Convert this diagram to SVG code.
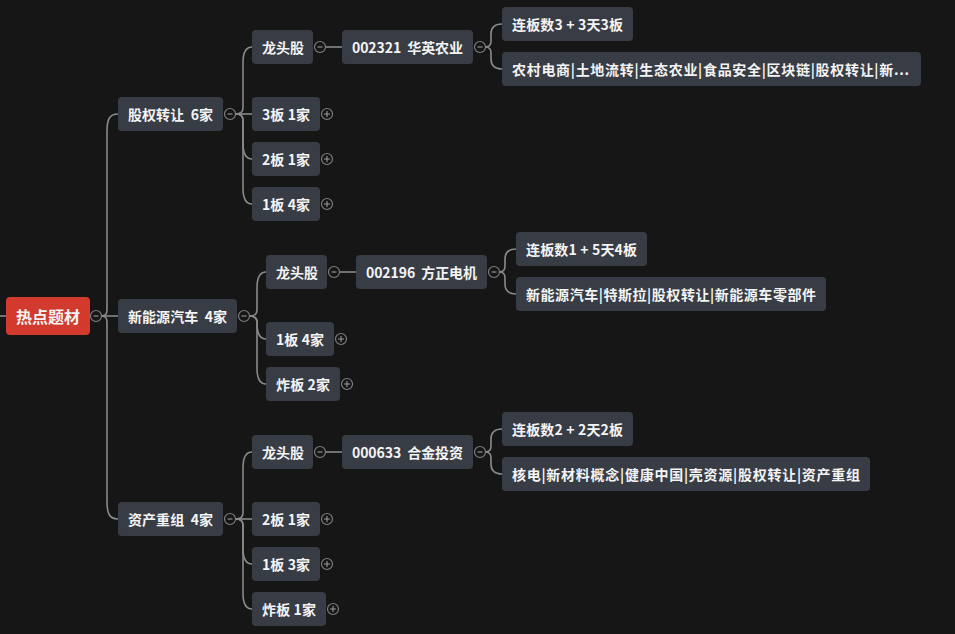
<svg xmlns="http://www.w3.org/2000/svg" width="955" height="634" viewBox="0 0 955 634">
<style>
.bg{fill:#161616}
.n rect{fill:#383d45}
.n text{fill:#f4f4f4;font-family:"Noto Sans CJK SC","Noto Sans",sans-serif;font-size:14px;font-weight:600;dominant-baseline:central}
.root rect{fill:#d13a2c}
.root text{font-size:16px}
.c path{fill:none;stroke:#8a8a8a;stroke-width:1.6}
.t circle{fill:#161616;stroke:#7e7e7e;stroke-width:1.2}
.t path{stroke:#9a9a9a;stroke-width:1.1;fill:none}
</style>
<rect class="bg" x="0" y="0" width="955" height="634"/>

<g id="connectors" class="c">
<path d="M0 316 H6"/>
<!-- root -->
<path d="M101.5 316 Q107 316 107 310 V132 C107 120 109 114 118 114"/>
<path d="M101.5 316 H118"/>
<path d="M101.5 316 Q107 316 107 322 V501 C107 513 109 519 118 519"/>
<!-- A -->
<path d="M235.5 114 Q243 114 243 108 V63 C243 53 245 47 252 47"/>
<path d="M235.5 114 H252"/>
<path d="M235.5 114 Q243 114 243 120 V143 C243 153 245 159 252 159"/>
<path d="M235.5 114 Q243 114 243 120 V188 C243 198 245 204 252 204"/>
<path d="M325.5 47 H342"/>
<path d="M485.5 47 Q491 47 491 41 V34 C491 28 494 24 502 24"/>
<path d="M485.5 47 Q491 47 491 53 V59 C491 65 494 69 502 69"/>
<!-- B -->
<path d="M249.5 316 Q257 316 257 310 V288 C257 278 259 272 266 272"/>
<path d="M249.5 316 Q257 316 257 322 V323 C257 333 259 339 266 339"/>
<path d="M249.5 316 Q257 316 257 322 V368 C257 378 259 384 266 384"/>
<path d="M339.5 272 H356"/>
<path d="M499.5 272 Q505 272 505 266 V259 C505 253 508 249 516 249"/>
<path d="M499.5 272 Q505 272 505 278 V284 C505 290 508 294 516 294"/>
<!-- C -->
<path d="M235.5 519 Q243 519 243 513 V468 C243 458 245 452 252 452"/>
<path d="M235.5 519 H252"/>
<path d="M235.5 519 Q243 519 243 525 V548 C243 558 245 564 252 564"/>
<path d="M235.5 519 Q243 519 243 525 V593 C243 603 245 609 252 609"/>
<path d="M325.5 452 H342"/>
<path d="M485.5 452 Q491 452 491 446 V439 C491 433 494 429 502 429"/>
<path d="M485.5 452 Q491 452 491 458 V464 C491 470 494 474 502 474"/>
</g>

<g id="root" class="n root"><rect x="6" y="297" width="84" height="38" rx="4"/><text x="16" y="316" textLength="64">热点题材</text></g>

<g id="nA" class="n"><rect x="118" y="97" width="105" height="34" rx="4"/><text x="128" y="114" textLength="85" xml:space="preserve">股权转让  6家</text></g>
<g id="nB" class="n"><rect x="118" y="299" width="119" height="34" rx="4"/><text x="128" y="316" textLength="99" xml:space="preserve">新能源汽车  4家</text></g>
<g id="nC" class="n"><rect x="118" y="502" width="105" height="34" rx="4"/><text x="128" y="519" textLength="85" xml:space="preserve">资产重组  4家</text></g>

<g id="nA1" class="n"><rect x="252" y="30" width="61" height="34" rx="4"/><text x="262" y="47" textLength="42">龙头股</text></g>
<g id="nA1s" class="n"><rect x="342" y="30" width="131" height="34" rx="4"/><text x="352" y="47" textLength="111" xml:space="preserve">002321  华英农业</text></g>
<g id="nA1a" class="n"><rect x="502" y="7" width="131" height="34" rx="4"/><text x="512" y="24" textLength="111">连板数3 + 3天3板</text></g>
<g id="nA1b" class="n"><rect x="502" y="52" width="419" height="34" rx="4"/><text x="512" y="69" textLength="397">农村电商|土地流转|生态农业|食品安全|区块链|股权转让|新...</text></g>
<g id="nA2" class="n"><rect x="252" y="97" width="68" height="34" rx="4"/><text x="262" y="114" textLength="48">3板 1家</text></g>
<g id="nA3" class="n"><rect x="252" y="142" width="68" height="34" rx="4"/><text x="262" y="159" textLength="48">2板 1家</text></g>
<g id="nA4" class="n"><rect x="252" y="187" width="68" height="34" rx="4"/><text x="262" y="204" textLength="48">1板 4家</text></g>

<g id="nB1" class="n"><rect x="266" y="255" width="61" height="34" rx="4"/><text x="276" y="272" textLength="42">龙头股</text></g>
<g id="nB1s" class="n"><rect x="356" y="255" width="131" height="34" rx="4"/><text x="366" y="272" textLength="111" xml:space="preserve">002196  方正电机</text></g>
<g id="nB1a" class="n"><rect x="516" y="232" width="131" height="34" rx="4"/><text x="526" y="249" textLength="111">连板数1 + 5天4板</text></g>
<g id="nB1b" class="n"><rect x="516" y="277" width="310" height="34" rx="4"/><text x="526" y="294" textLength="290">新能源汽车|特斯拉|股权转让|新能源车零部件</text></g>
<g id="nB2" class="n"><rect x="266" y="322" width="68" height="34" rx="4"/><text x="276" y="339" textLength="48">1板 4家</text></g>
<g id="nB3" class="n"><rect x="266" y="367" width="74" height="34" rx="4"/><text x="276" y="384" textLength="54">炸板 2家</text></g>

<g id="nC1" class="n"><rect x="252" y="435" width="61" height="34" rx="4"/><text x="262" y="452" textLength="42">龙头股</text></g>
<g id="nC1s" class="n"><rect x="342" y="435" width="131" height="34" rx="4"/><text x="352" y="452" textLength="111" xml:space="preserve">000633  合金投资</text></g>
<g id="nC1a" class="n"><rect x="502" y="412" width="131" height="34" rx="4"/><text x="512" y="429" textLength="111">连板数2 + 2天2板</text></g>
<g id="nC1b" class="n"><rect x="502" y="457" width="368" height="34" rx="4"/><text x="512" y="474" textLength="348">核电|新材料概念|健康中国|壳资源|股权转让|资产重组</text></g>
<g id="nC2" class="n"><rect x="252" y="502" width="68" height="34" rx="4"/><text x="262" y="519" textLength="48">2板 1家</text></g>
<g id="nC3" class="n"><rect x="252" y="547" width="68" height="34" rx="4"/><text x="262" y="564" textLength="48">1板 3家</text></g>
<g id="nC4" class="n"><rect x="252" y="592" width="74" height="34" rx="4"/><text x="262" y="609" textLength="54">炸板 1家</text></g>

<g id="toggles" class="t">
<circle cx="96" cy="316" r="5.5"/><path d="M93.5 316 H98.5"/>
<circle cx="230" cy="114" r="5.5"/><path d="M227.5 114 H232.5"/>
<circle cx="320" cy="47" r="5.5"/><path d="M317.5 47 H322.5"/>
<circle cx="480" cy="47" r="5.5"/><path d="M477.5 47 H482.5"/>
<circle cx="244" cy="316" r="5.5"/><path d="M241.5 316 H246.5"/>
<circle cx="334" cy="272" r="5.5"/><path d="M331.5 272 H336.5"/>
<circle cx="494" cy="272" r="5.5"/><path d="M491.5 272 H496.5"/>
<circle cx="230" cy="519" r="5.5"/><path d="M227.5 519 H232.5"/>
<circle cx="320" cy="452" r="5.5"/><path d="M317.5 452 H322.5"/>
<circle cx="480" cy="452" r="5.5"/><path d="M477.5 452 H482.5"/>
<circle cx="327" cy="114" r="5.5"/><path d="M324 114 H330 M327 111 V117"/>
<circle cx="327" cy="159" r="5.5"/><path d="M324 159 H330 M327 156 V162"/>
<circle cx="327" cy="204" r="5.5"/><path d="M324 204 H330 M327 201 V207"/>
<circle cx="341" cy="339" r="5.5"/><path d="M338 339 H344 M341 336 V342"/>
<circle cx="347" cy="384" r="5.5"/><path d="M344 384 H350 M347 381 V387"/>
<circle cx="327" cy="519" r="5.5"/><path d="M324 519 H330 M327 516 V522"/>
<circle cx="327" cy="564" r="5.5"/><path d="M324 564 H330 M327 561 V567"/>
<circle cx="333" cy="609" r="5.5"/><path d="M330 609 H336 M333 606 V612"/>
</g>
</svg>
